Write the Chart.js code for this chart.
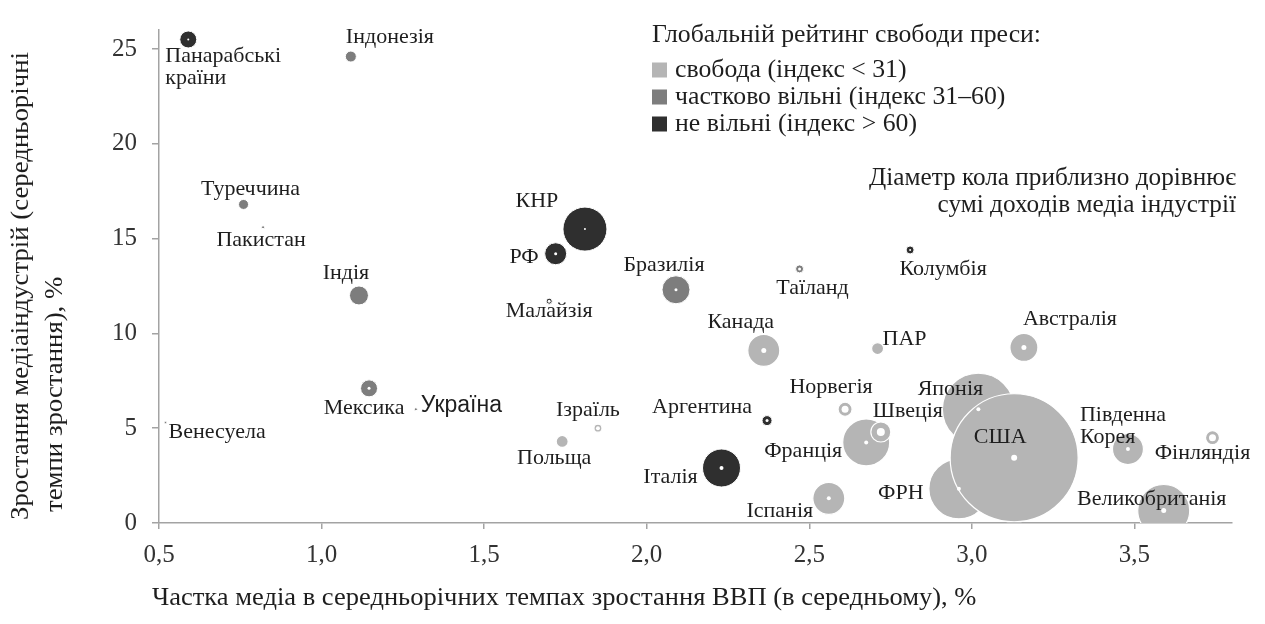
<!DOCTYPE html>
<html lang="uk">
  <head>
    <meta charset="UTF-8" />
    <title>Медіаіндустрія і ВВП</title>
    <style>
      body {
        margin: 0;
        padding: 0;
        background-color: #fff;
      }
      .chart-container {
        position: relative;
        width: 1265px;
        height: 624px;
      }
    </style>
  </head>
  <body>
    <div class="chart-container">
      <canvas id="myChart"></canvas>
    </div>
    <script src="https://cdn.jsdelivr.net/npm/chart.js@4.4.0/dist/chart.umd.min.js"></script>
    <script>
      // countries, one entry each
      const countries = [
        "Панарабські\nкраїни", "Індонезія", "Туреччина", "Пакистан", "Індія", "Мексика",
        "Україна", "Венесуела", "КНР", "РФ", "Малайзія", "Бразилія", "Таїланд", "Колумбія",
        "Канада", "ПАР", "Австралія", "Норвегія", "Франція", "Швеція", "Аргентина",
        "Ізраїль", "Польща", "Італія", "Іспанія", "Японія", "ФРН", "США",
        "Південна\nКорея", "Фінляндія", "Великобританія",
      ];
      // share of media in GDP growth, %
      const mediaShare = [
        0.59, 1.09, 0.76, 0.82, 1.115, 1.146, 1.29, 0.52, 1.81, 1.72, 1.70, 2.09, 2.47, 2.81,
        2.36, 2.71, 3.16, 2.61, 2.675, 2.72, 2.37, 1.85, 1.74, 2.23, 2.56, 3.02, 2.96, 3.13,
        3.48, 3.74, 3.59,
      ];
      // media industry growth, %
      const mediaGrowth = [
        25.5, 24.6, 16.8, 15.6, 12.0, 7.1, 6.0, 5.3, 15.5, 14.2, 11.7, 12.3, 13.4, 14.4,
        9.1, 9.2, 9.26, 6.0, 4.25, 4.8, 5.4, 5.0, 4.3, 2.9, 1.3, 6.0, 1.8, 3.44,
        3.9, 4.5, 0.66,
      ];
      // bubble radius ~ media revenue
      const revenueSize = [
        8.5, 5.5, 5, 1.5, 9.5, 8.5, 1.5, 1.2, 22, 11, 3, 14, 4, 4,
        16, 6, 14, 7, 23.5, 10, 5, 4, 6, 19, 16, 36, 30, 64,
        15.5, 7, 26,
      ];
      // white centre mark
      const centreMark = [
        1, 0, 0, 0, 0, 1.5, 0, 0, 1, 1.5, 1.5, 1.5, 1.5, 1, 2.5, 0, 2.5, 3.5, 2, 4, 1.5,
        2, 0, 2, 2, 2, 2, 3, 2, 3.5, 2.5,
      ];
      // 0 = free, 1 = partly free, 2 = not free
      const freedom = [
        2, 1, 1, 1, 1, 1, 1, 1, 2, 2, 2, 1, 1, 2, 0, 0, 0, 0, 0, 0, 2, 0, 0, 2, 0, 0, 0, 0,
        0, 0, 0,
      ];
      const freedomNames = [
        "свобода (індекс < 31)",
        "частково вільні (індекс 31–60)",
        "не вільні (індекс > 60)",
      ];
      const xTickValues = [0.5, 1.0, 1.5, 2.0, 2.5, 3.0, 3.5];
      const yTickValues = [0, 5, 10, 15, 20, 25];

      const colours = ["#b5b5b5", "#7d7d7d", "#2f2f2f"];
      const serif = "'Liberation Serif', 'Times New Roman', serif";
      const textColour = "#1e1e1e";

      // where each country label sits relative to its bubble
      const labelPos = [
        [-23, 17, "left"], [-5, -19, "left"], [7, -15, "center"], [-2, 13, "center"],
        [-13, -22, "center"], [-5, 20, "center"], [5, -4, "left"], [3, 10, "left"],
        [-48, -28, "center"], [-17, 3, "right"], [0, 10, "center"], [-12, -25, "center"],
        [13, 19, "center"], [33, 19, "center"], [-23, -28, "center"], [5, -9, "left"],
        [46, -28, "center"], [-14, -22, "center"], [-63, 9, "center"], [27, -21, "center"],
        [-65, -13, "center"], [-10, -18, "center"], [-8, 17, "center"], [-51, 9, "center"],
        [-49, 13, "center"], [-28, -20, "center"], [-58, 4, "center"], [-14, -21, "center"],
        [-48, -34, "left"], [-10, 16, "center"], [-12, -11, "center"],
      ];

      function points(group) {
        const out = [];
        countries.forEach((c, i) => {
          if (freedom[i] === group) {
            out.push({ x: mediaShare[i], y: mediaGrowth[i], r: revenueSize[i] });
          }
        });
        return out;
      }

      const marks = [];
      countries.forEach((c, i) => {
        if (centreMark[i] > 0) {
          marks.push({ x: mediaShare[i], y: mediaGrowth[i], r: centreMark[i] });
        }
      });

      // text slightly widened to match the source typesetting
      function wideText(ctx, text, x, y, align, sx) {
        ctx.save();
        ctx.translate(x, y);
        ctx.scale(sx, 1);
        ctx.textAlign = align;
        ctx.fillText(text, 0, 0);
        ctx.restore();
      }

      const overlay = {
        id: "overlay",
        afterDatasetsDraw(chart) {
          const ctx = chart.ctx;
          const xs = chart.scales.x;
          const ys = chart.scales.y;
          ctx.save();
          ctx.fillStyle = textColour;
          ctx.textBaseline = "middle";

          // country labels
          countries.forEach((name, i) => {
            const px = xs.getPixelForValue(mediaShare[i]);
            const py = ys.getPixelForValue(mediaGrowth[i]);
            const [dx, dy, align] = labelPos[i];
            ctx.font = name === "Україна" ? "23px 'Liberation Sans', sans-serif" : "22px " + serif;
            name.split("\n").forEach((line, k) => {
              wideText(ctx, line, px + dx, py + dy + k * 22, align, 1);
            });
          });

          // legend
          ctx.font = "25px " + serif;
          wideText(ctx, "Глобальній рейтинг свободи преси:", 652, 35, "left", 1.03);
          freedomNames.forEach((t, k) => {
            const cy = 70 + k * 27;
            ctx.fillStyle = colours[k];
            ctx.fillRect(652, cy - 7.5, 15, 15);
            ctx.fillStyle = textColour;
            wideText(ctx, t, 675, cy, "left", 1.03);
          });

          // note
          wideText(ctx, "Діаметр кола приблизно дорівнює", 1236, 178, "right", 1.01);
          wideText(ctx, "сумі доходів медіа індустрії", 1236, 205, "right", 1.01);

          // axis titles
          ctx.font = "26px " + serif;
          ctx.textBaseline = "alphabetic";
          wideText(ctx, "Частка медіа в середньорічних темпах зростання ВВП (в середньому), %", 152, 605, "left", 1.02);

          ctx.textBaseline = "middle";
          ctx.save();
          ctx.translate(21, 520);
          ctx.rotate(-Math.PI / 2);
          wideText(ctx, "Зростання медіаіндустрій (середньорічні", 0, 0, "left", 1.03);
          ctx.restore();
          ctx.save();
          ctx.translate(55, 512);
          ctx.rotate(-Math.PI / 2);
          wideText(ctx, "темпи зростання), %", 0, 0, "left", 1.03);
          ctx.restore();
          ctx.restore();
        },
      };

      const axisGrey = "#a3a3a3";

      const config = {
        type: "bubble",
        data: {
          datasets: [
            { label: "centre", data: marks, backgroundColor: "#ffffff", borderWidth: 0, clip: 0 },
            { label: freedomNames[0], data: points(0), backgroundColor: colours[0], borderColor: "#fff", borderWidth: 1.2, clip: 0 },
            { label: freedomNames[1], data: points(1), backgroundColor: colours[1], borderColor: "#fff", borderWidth: 1, clip: 0 },
            { label: freedomNames[2], data: points(2), backgroundColor: colours[2], borderColor: "#fff", borderWidth: 1, clip: 0 },
          ],
        },
        options: {
          responsive: true,
          maintainAspectRatio: false,
          animation: false,
          events: [],
          layout: { autoPadding: false, padding: { left: 0, right: 33, top: 9, bottom: 0 } },
          plugins: {
            legend: { display: false },
            tooltip: { enabled: false },
          },
          scales: {
            x: {
              type: "linear",
              min: 0.5,
              max: 3.8,
              afterBuildTicks: (s) => {
                s.ticks = xTickValues.map((v) => ({ value: v }));
              },
              afterFit: (s) => {
                s.height = 101;
              },
              ticks: {
                maxRotation: 0,
                padding: 11,
                color: "#333",
                font: { family: serif, size: 25 },
                callback: (v) => Number(v).toFixed(1).replace(".", ","),
              },
              grid: { drawOnChartArea: false, tickLength: 6, color: axisGrey, lineWidth: 1.5 },
              border: { color: axisGrey, width: 1.5 },
            },
            y: {
              type: "linear",
              min: 0,
              max: 26,
              afterBuildTicks: (s) => {
                s.ticks = yTickValues.map((v) => ({ value: v }));
              },
              afterFit: (s) => {
                s.width = 159;
              },
              ticks: {
                padding: 15,
                color: "#333",
                font: { family: serif, size: 25 },
              },
              grid: { drawOnChartArea: false, tickLength: 7, color: axisGrey, lineWidth: 1.5 },
              border: { color: axisGrey, width: 1.5 },
            },
          },
        },
        plugins: [overlay],
      };

      const ctx = document.getElementById("myChart").getContext("2d");
      const myChart = new Chart(ctx, config);
    </script>
  </body>
</html>
